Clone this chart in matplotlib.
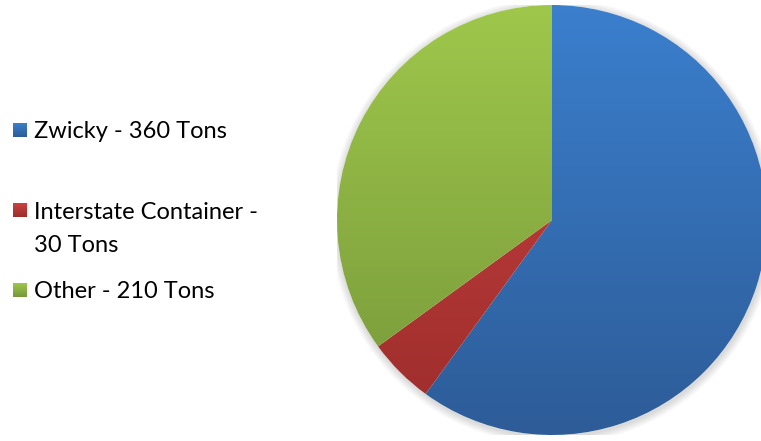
import numpy as np
import matplotlib
matplotlib.use("Agg")
import matplotlib.pyplot as plt
from matplotlib.colors import LinearSegmentedColormap
from matplotlib.patches import Circle

labels = ["Zwicky - 360 Tons", "Interstate Container -\n30 Tons", "Other - 210 Tons"]
values = [360, 30, 210]
top_colors = ["#3B7FCD", "#CB4341", "#9FC74B"]
bot_colors = ["#2D5C98", "#9C2D2B", "#76973A"]

W, H = 761, 441
fig = plt.figure(figsize=(W / 100, H / 100), dpi=100)
fig.patch.set_facecolor("white")

# pie axes in pixel box
cx, cy, r = 552, 220, 215
ax = fig.add_axes([(cx - r) / W, (H - cy - r) / H, 2 * r / W, 2 * r / H])
ax.set_xlim(-1, 1)
ax.set_ylim(-1, 1)
ax.set_aspect("equal")
ax.axis("off")

# subtle shadow
for i in range(6):
    ax.add_patch(Circle((0.004, -0.008), 1.0 + 0.006 * (i + 1), color="black",
                        alpha=0.025, lw=0, zorder=0))
ax.add_patch(Circle((0, 0), 1.0, color="white", lw=0, zorder=0.5))

wedges, _ = ax.pie(values, startangle=90, counterclock=False, radius=1,
                   wedgeprops=dict(linewidth=0), frame=False)

grad = np.linspace(0, 1, 256).reshape(-1, 1)
for w, tc, bc in zip(wedges, top_colors, bot_colors):
    cmap = LinearSegmentedColormap.from_list("g", [tc, bc])
    w.set_facecolor("none")
    im = ax.imshow(grad, cmap=cmap, extent=[-1, 1, -1, 1], origin="upper",
                   aspect="auto", zorder=1)
    im.set_clip_path(w)

ax.set_xlim(-1, 1)
ax.set_ylim(-1, 1)

# legend squares
sq = 14
sq_tops = [123, 203, 283]
for sqtop, tc, bc in zip(sq_tops, top_colors, bot_colors):
    sax = fig.add_axes([13 / W, (H - sqtop - sq) / H, sq / W, sq / H])
    sax.imshow(grad, cmap=LinearSegmentedColormap.from_list("g", [tc, bc]),
               aspect="auto", extent=[0, 1, 0, 1])
    sax.axis("off")

font = ["Lato", "DejaVu Sans"]
fs = 17
lines = ["Zwicky - 360 Tons", "Interstate Container -", "30 Tons", "Other - 210 Tons"]
baselines = [138, 219, 252, 298]
for txt, yb in zip(lines, baselines):
    fig.text(34 / W, 1 - yb / H, txt, fontsize=fs, family=font,
             va="baseline", ha="left", color="black")

fig.savefig("out.png", dpi=100, facecolor="white")
